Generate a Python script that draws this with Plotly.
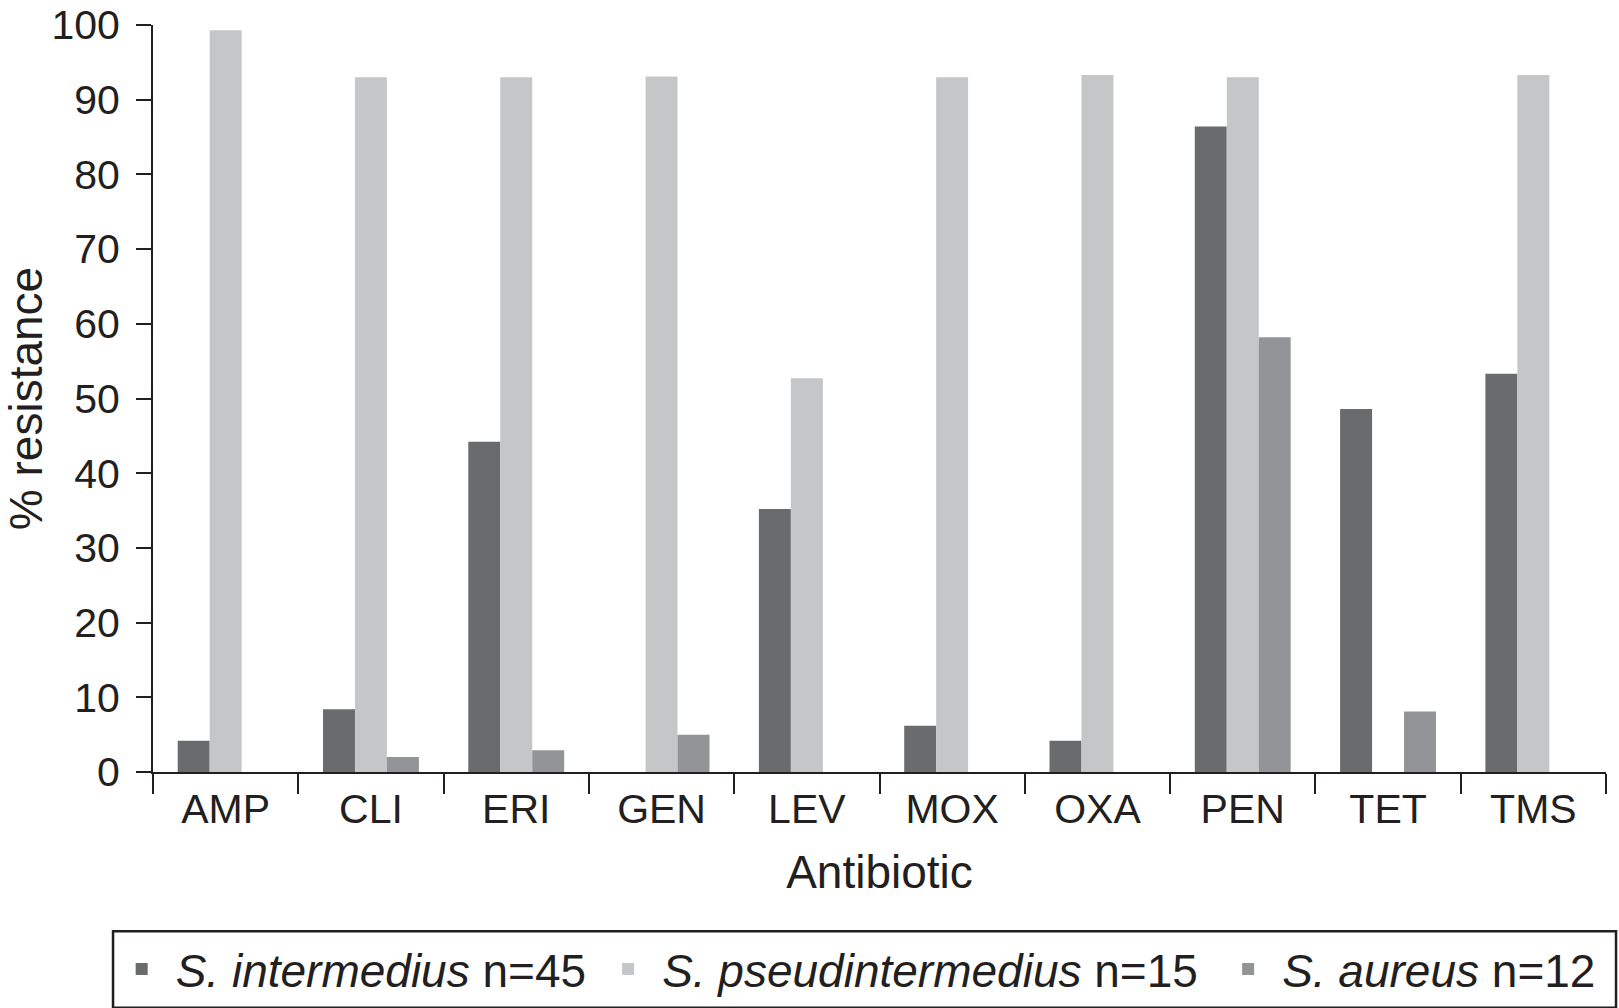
import plotly.graph_objects as go

categories = ["AMP", "CLI", "ERI", "GEN", "LEV", "MOX", "OXA", "PEN", "TET", "TMS"]
s_intermedius = [4.2, 8.4, 44.2, 0, 35.2, 6.2, 4.2, 86.4, 48.6, 53.3]
s_pseudintermedius = [99.3, 93.0, 93.0, 93.1, 52.7, 93.0, 93.3, 93.0, 0, 93.3]
s_aureus = [0, 2.0, 2.9, 5.0, 0, 0, 0, 58.2, 8.1, 0]
y_ticks = [0, 10, 20, 30, 40, 50, 60, 70, 80, 90, 100]

series_names = ["<i>S. intermedius</i> n=45", "<i>S. pseudintermedius</i> n=15", "<i>S. aureus</i> n=12"]
colors = ["#6a6b6d", "#c4c6c8", "#939497"]
legend_ids = ["legend", "legend2", "legend3"]
legend_x = [-0.0312, 0.3036, 0.7303]

FONT = "Liberation Sans, Arial, Helvetica, sans-serif"
INK = "#231f20"

fig = go.Figure()
for name, vals, col, lid in zip(series_names, [s_intermedius, s_pseudintermedius, s_aureus], colors, legend_ids):
    fig.add_trace(go.Bar(x=categories, y=vals, name=name, legend=lid,
                         marker=dict(color=col, line=dict(width=0))))

legend_common = dict(orientation="h", y=-0.2637, xanchor="left", yanchor="middle",
                     font=dict(family=FONT, size=46, color=INK),
                     bgcolor="rgba(0,0,0,0)", borderwidth=0, itemwidth=58)

fig.update_layout(
    width=1619, height=1008,
    margin=dict(l=153, r=13, t=25, b=236, autoexpand=False),
    paper_bgcolor="white", plot_bgcolor="white",
    barmode="group", bargap=0.34, bargroupgap=0,
    font=dict(family=FONT, size=41, color=INK),
    showlegend=True,
    legend=dict(x=legend_x[0], **legend_common),
    legend2=dict(x=legend_x[1], **legend_common),
    legend3=dict(x=legend_x[2], **legend_common),
    xaxis=dict(showline=True, linecolor=INK, linewidth=2, ticks="outside", tickson="boundaries",
               ticklen=20, tickwidth=2, tickcolor=INK, showgrid=False, automargin=False,
               title=dict(text="Antibiotic", font=dict(size=46), standoff=25),
               tickfont=dict(size=41), ticklabeloverflow="allow"),
    yaxis=dict(range=[0, 100], tickvals=y_ticks, showline=True, linecolor=INK, linewidth=2,
               ticks="outside", ticklen=15, tickwidth=2, tickcolor=INK, showgrid=False,
               zeroline=False, tickfont=dict(size=41), automargin=False, ticklabelstandoff=8,
               ticklabeloverflow="allow",
               title=dict(text="% resistance", font=dict(size=46), standoff=16)),
)

fig.add_shape(type="rect", xref="paper", yref="paper", x0=-0.0275, x1=1.0069, y0=-0.3156, y1=-0.2131,
              line=dict(color=INK, width=2.5), fillcolor="rgba(0,0,0,0)")

fig.write_html("out.html", config={"displayModeBar": False},
               post_script="document.body.style.margin='0';document.body.style.overflow='hidden';")
